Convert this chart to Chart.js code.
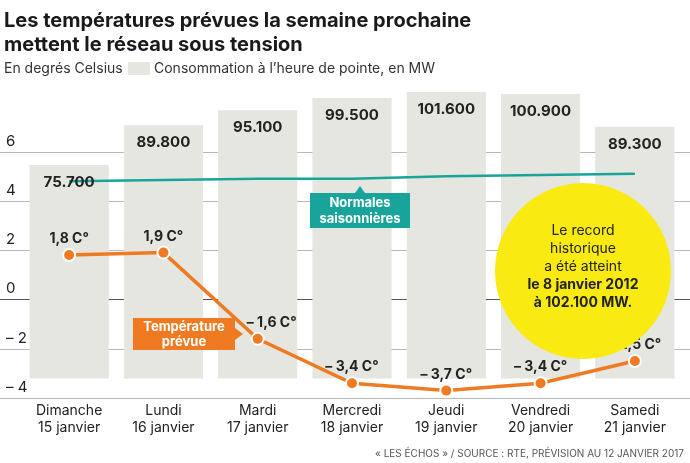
<!DOCTYPE html>
<html><head><meta charset="utf-8">
<script src="https://cdn.jsdelivr.net/npm/chart.js@4"></script>
<style>body{margin:0;background:#fff}canvas{display:block}</style>
</head><body>
<canvas id="c" width="690" height="463"></canvas>
<script>
const days = ["Dimanche","Lundi","Mardi","Mercredi","Jeudi","Vendredi","Samedi"];
const dates = ["15 janvier","16 janvier","17 janvier","18 janvier","19 janvier","20 janvier","21 janvier"];
const consumption = [75.7,89.8,95.1,99.5,101.6,100.9,89.3];
const consumptionLabels = ["75.700","89.800","95.100","99.500","101.600","100.900","89.300"];
const temperature = [1.8,1.9,-1.6,-3.4,-3.7,-3.4,-2.5];
const tempLabels = ["1,8 C°","1,9 C°","– 1,6 C°","– 3,4 C°","– 3,7 C°","– 3,4 C°","– 2,5 C°"];
const normals = [4.8,4.85,4.9,4.9,5.0,5.05,5.1];
const yTicks = [6,4,2,0,-2,-4];
const yTickLabels = ["6","4","2","0","– 2","– 4"];

const F = "'Inter','Roboto',sans-serif";
const BAR = "#e5e6df", OR = "#f07a22", TEAL = "#19a49b";
const labelShift = [0,0,14,0,0,0,0];

const deco = {
  id:'deco',
  beforeDatasetsDraw(ch){
    const c=ch.ctx, y=ch.scales.y;
    c.save();
    yTicks.forEach((t,i)=>{
      const p=Math.round(y.getPixelForValue(t))+0.5;
      c.strokeStyle = t===0 ? "#555" : "#b8b8b8"; c.lineWidth=1;
      c.beginPath(); c.moveTo(0,p); c.lineTo(690,p); c.stroke();
    });
    c.restore();
  },
  afterDatasetsDraw(ch){
    const c=ch.ctx, x=ch.scales.x, y=ch.scales.y, y2=ch.scales.y2;
    c.save();
    c.fillStyle="#222"; c.font="15px "+F; c.textAlign="left"; c.textBaseline="bottom";
    yTicks.forEach((t,i)=>c.fillText(yTickLabels[i],6,y.getPixelForValue(t)-3));
    c.textAlign="center"; c.textBaseline="top"; c.font="bold 15px "+F; c.fillStyle="#222";
    consumption.forEach((v,i)=>c.fillText(consumptionLabels[i],x.getPixelForValue(i),y2.getPixelForValue(v)+10));
    c.textBaseline="bottom"; c.font="bold 14px "+F;
    temperature.forEach((v,i)=>c.fillText(tempLabels[i],x.getPixelForValue(i)+labelShift[i],y.getPixelForValue(v)-9));
    c.font="14px "+F; c.textBaseline="top"; c.fillStyle="#222";
    days.forEach((d,i)=>{const px=x.getPixelForValue(i);c.fillText(d,px,404);c.fillText(dates[i],px,421);});
    c.fillStyle=TEAL; c.beginPath();
    c.moveTo(355,193);c.lineTo(365,193);c.lineTo(360,186);c.fill();
    c.fillRect(310,193,100,35);
    c.fillStyle="#fff"; c.font="bold 13px "+F; c.textBaseline="middle";
    c.fillText("Normales",360,203); c.fillText("saisonnières",360,219);
    c.fillStyle=OR; c.fillRect(133,318,102,32);
    c.beginPath();c.moveTo(235,328);c.lineTo(243,334);c.lineTo(235,340);c.fill();
    c.fillStyle="#fff"; c.fillText("Température",184,327); c.fillText("prévue",184,342);
    c.fillStyle="#f9ea12"; c.beginPath(); c.arc(583,271,88,0,Math.PI*2); c.fill();
    c.fillStyle="#222"; c.font="14px "+F;
    c.fillText("Le record",583,231); c.fillText("historique",583,249); c.fillText("a été atteint",583,267);
    c.font="bold 14px "+F;
    c.fillText("le 8 janvier 2012",583,285); c.fillText("à 102.100 MW.",583,303);
    c.textAlign="left"; c.textBaseline="alphabetic"; c.fillStyle="#1a1a1a";
    c.font="bold 20px "+F;
    c.fillText("Les températures prévues la semaine prochaine",4,27);
    c.fillText("mettent le réseau sous tension",4,51);
    c.font="14px "+F; c.fillStyle="#333";
    c.fillText("En degrés Celsius",4,73);
    c.fillStyle=BAR; c.fillRect(128,62,22,13);
    c.fillStyle="#333"; c.fillText("Consommation à l’heure de pointe, en MW",154,73);
    c.font="10px "+F; c.fillStyle="#555"; c.textAlign="right";
    c.fillText("« LES ÉCHOS » / SOURCE : RTE, PRÉVISION AU 12 JANVIER 2017",684,457);
    c.restore();
  }
};

new Chart(document.getElementById('c'),{
  data:{labels:days,datasets:[
    {type:'line',data:normals,yAxisID:'y',borderColor:TEAL,borderWidth:2.5,pointRadius:0,order:1},
    {type:'line',data:temperature,yAxisID:'y',borderColor:OR,borderWidth:3.5,pointRadius:6,pointBackgroundColor:OR,pointBorderColor:"#fff",pointBorderWidth:2,order:0},
    {type:'bar',data:consumption,yAxisID:'y2',backgroundColor:BAR,barPercentage:0.84,categoryPercentage:1,order:2}
  ]},
  options:{responsive:false,animation:false,devicePixelRatio:1,
    layout:{padding:{left:22,right:-10,top:90,bottom:65}},
    plugins:{legend:{display:false},tooltip:{enabled:false}},
    scales:{
      x:{display:false},
      y:{display:false,min:-4,max:8.5},
      y2:{display:false,min:-6.9,max:102.3}
    }},
  plugins:[deco]
});
</script>
</body></html>
